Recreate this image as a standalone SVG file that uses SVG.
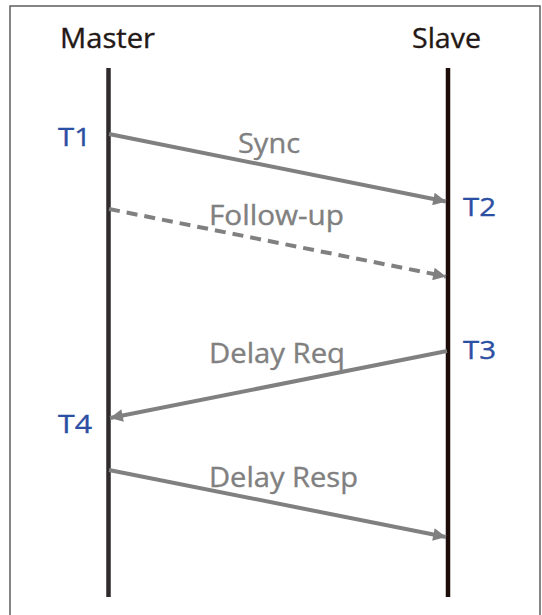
<svg xmlns="http://www.w3.org/2000/svg" width="542" height="615" viewBox="0 0 542 615">
  <style>
    .frame { fill: none; stroke: #5e5e5e; stroke-width: 1.5; }
    .life { stroke-width: 4.5; stroke-linecap: butt; }
    .title { font-family: "Open Sans", "Noto Sans", sans-serif; font-size: 27px; fill: #231815; stroke: #231815; stroke-width: 0.35; }
    .stamp { font-family: "Open Sans", "Noto Sans", sans-serif; font-size: 26px; fill: #2b4fa3; stroke: #2b4fa3; stroke-width: 0.35; }
    .msg { fill: none; stroke: #808080; stroke-width: 4; marker-end: url(#head); }
    .dashed { stroke-dasharray: 11 7; }
    .label { font-family: "Open Sans", "Noto Sans", sans-serif; font-size: 27px; fill: #808080; stroke: #808080; stroke-width: 0.35; }
  </style>
  <defs>
    <marker id="head" viewBox="0 0 10 10" refX="10" refY="5" markerWidth="4" markerHeight="3.2" orient="auto" markerUnits="strokeWidth">
      <path d="M0,0 L10,5 L0,10 z" fill="#808080"/>
    </marker>
  </defs>
  <rect width="542" height="615" fill="#ffffff"/>
  <rect class="frame" x="10" y="6" width="530" height="620"/>

  <g id="master">
    <text class="title" x="60" y="48" textLength="95" lengthAdjust="spacingAndGlyphs">Master</text>
    <line class="life" x1="108.5" y1="68" x2="108.5" y2="597" stroke="#2f2a2b"/>
  </g>
  <g id="slave">
    <text class="title" x="412" y="48" textLength="69" lengthAdjust="spacingAndGlyphs">Slave</text>
    <line class="life" x1="448" y1="68" x2="448" y2="597" stroke="#1c0c0a"/>
  </g>

  <g id="timestamps">
    <text class="stamp" x="58" y="146" textLength="33" lengthAdjust="spacingAndGlyphs">T1</text>
    <text class="stamp" x="463" y="216" textLength="33" lengthAdjust="spacingAndGlyphs">T2</text>
    <text class="stamp" x="463" y="359" textLength="33" lengthAdjust="spacingAndGlyphs">T3</text>
    <text class="stamp" x="58" y="433" textLength="34" lengthAdjust="spacingAndGlyphs">T4</text>
  </g>

  <g id="connectors">
    <line class="msg" x1="109" y1="134" x2="446" y2="201.5"/>
    <line class="msg dashed" x1="109" y1="209" x2="446" y2="276.5"/>
    <line class="msg" x1="447" y1="351" x2="110" y2="418"/>
    <line class="msg" x1="109" y1="470" x2="446" y2="537"/>
  </g>

  <g id="labels">
    <text class="label" x="238" y="153" textLength="62" lengthAdjust="spacingAndGlyphs">Sync</text>
    <text class="label" x="209" y="225" textLength="135" lengthAdjust="spacingAndGlyphs">Follow-up</text>
    <text class="label" x="209" y="363" textLength="136" lengthAdjust="spacingAndGlyphs">Delay Req</text>
    <text class="label" x="209" y="487" textLength="149" lengthAdjust="spacingAndGlyphs">Delay Resp</text>
  </g>
</svg>
